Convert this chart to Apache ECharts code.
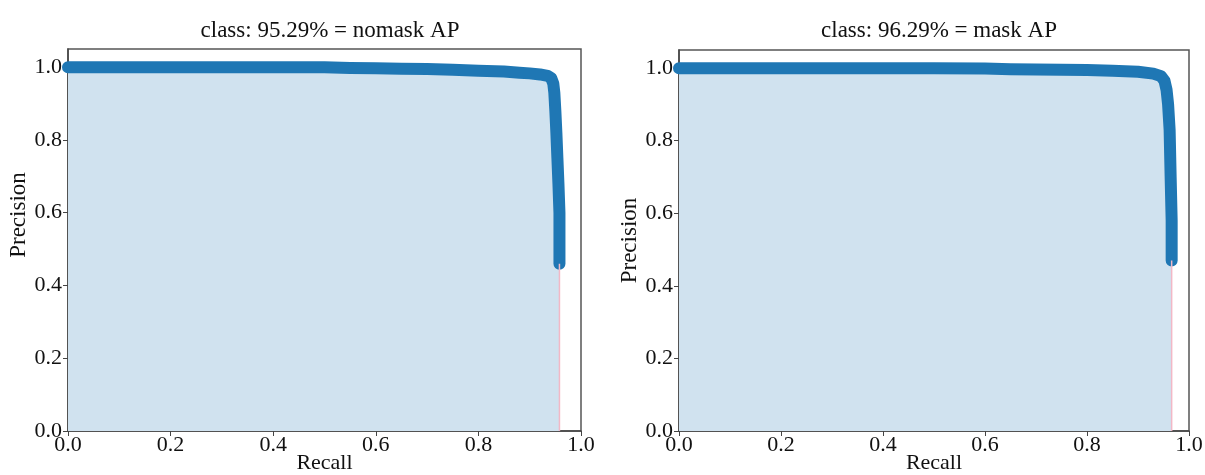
<!DOCTYPE html>
<html>
<head>
<meta charset="utf-8">
<script src="https://cdn.jsdelivr.net/npm/echarts@6/dist/echarts.min.js"></script>
<style>
  html, body { margin: 0; padding: 0; background: #fff; overflow: hidden; }
  #chart { width: 1205px; height: 475px; }
</style>
</head>
<body>
<div id="chart"></div>
<script>
// PR curve values
const nomaskRecall = [0, 0.1, 0.2, 0.3, 0.4, 0.5, 0.55, 0.6, 0.65, 0.7, 0.75, 0.8, 0.85, 0.88, 0.9, 0.92, 0.935, 0.942, 0.946, 0.948, 0.95, 0.952, 0.954, 0.956, 0.958, 0.958];
const nomaskPrecision = [1.0, 1.0, 1.0, 1.0, 1.0, 1.0, 0.998, 0.997, 0.996, 0.995, 0.993, 0.99, 0.988, 0.985, 0.983, 0.98, 0.976, 0.97, 0.955, 0.93, 0.88, 0.82, 0.75, 0.68, 0.6, 0.46];
const maskRecall = [0, 0.1, 0.2, 0.3, 0.4, 0.5, 0.6, 0.65, 0.7, 0.8, 0.85, 0.9, 0.93, 0.945, 0.952, 0.956, 0.959, 0.962, 0.964, 0.966, 0.966];
const maskPrecision = [1.0, 1.0, 1.0, 1.0, 1.0, 1.0, 0.999, 0.997, 0.996, 0.995, 0.993, 0.99, 0.985, 0.978, 0.965, 0.94, 0.9, 0.83, 0.7, 0.58, 0.47];
const titles = ['class: 95.29% = nomask AP', 'class: 96.29% = mask AP'];
const axisTicks = [0, 0.2, 0.4, 0.6, 0.8, 1.0];

const font = 'Liberation Serif';
const zip = (xs, ys) => xs.map((x, i) => [x, ys[i]]);

const chart = echarts.init(document.getElementById('chart'), null, { width: 1205, height: 475 });

const grids = [
    { left: 68, right: 624, top: 49, bottom: 44 },
    { left: 679, right: 16, top: 50, bottom: 44 }
];

const makeX = (i) => ({
    type: 'value', gridIndex: i, min: 0, max: 1, interval: 0.2,
    name: 'Recall', nameLocation: 'middle', nameGap: 21, nameMoveOverlap: false,
    nameTextStyle: { fontFamily: font, fontSize: 22, color: '#111' },
    axisLine: { onZero: false, lineStyle: { color: '#444', width: 1.5 } },
    axisTick: { show: true, length: 5, lineStyle: { color: '#444' } },
    axisLabel: { fontFamily: font, fontSize: 22, color: '#111', margin: 3,
        formatter: v => v.toFixed(1) },
    splitLine: { show: false }
});
const makeY = (i, pad) => ({
    type: 'value', gridIndex: i, min: 0, max: 1.05,
    name: 'Precision', nameLocation: 'middle', nameGap: 36,
    nameTextStyle: { fontFamily: font, fontSize: 23, color: '#111', padding: pad },
    axisLine: { onZero: false, lineStyle: { color: '#444', width: 1.5 } },
    axisTick: { show: true, length: 5, customValues: axisTicks, lineStyle: { color: '#444' } },
    axisLabel: { fontFamily: font, fontSize: 22, color: '#111', margin: 6,
        customValues: axisTicks, formatter: v => v.toFixed(1) },
    splitLine: { show: false }
});

const curve = (i, xs, ys) => ({
    type: 'line', xAxisIndex: i, yAxisIndex: i,
    data: zip(xs, ys),
    showSymbol: false, symbol: 'none',
    lineStyle: { color: '#1f77b4', width: 12, cap: 'round', join: 'round' },
    areaStyle: { color: '#d0e2ef', opacity: 1 },
    z: 3
});
const edge = (i, xs, ys) => ({
    type: 'line', xAxisIndex: i, yAxisIndex: i,
    data: [[xs[xs.length - 1], 0], [xs[xs.length - 1], ys[ys.length - 1]]],
    symbol: 'none',
    lineStyle: { color: '#f2b8c6', width: 1.5 },
    z: 4
});

const option = {
    animation: false,
    backgroundColor: '#fff',
    title: titles.map((t, i) => ({
        text: t,
        left: i === 0 ? 325 : 934,
        top: 14,
        textAlign: 'center',
        textStyle: { fontFamily: font, fontSize: 23, fontWeight: 'normal', color: '#111' }
    })),
    grid: grids.map(g => Object.assign({
        show: true, borderColor: '#555', borderWidth: 1.5,
        containLabel: false, outerBoundsMode: 'none'
    }, g)),
    xAxis: [makeX(0), makeX(1)],
    yAxis: [makeY(0, [0, 0, 0, 50]), makeY(1, [0, 0, 0, 0])],
    series: [
        curve(0, nomaskRecall, nomaskPrecision),
        edge(0, nomaskRecall, nomaskPrecision),
        curve(1, maskRecall, maskPrecision),
        edge(1, maskRecall, maskPrecision)
    ]
};

chart.setOption(option);
</script>
</body>
</html>
